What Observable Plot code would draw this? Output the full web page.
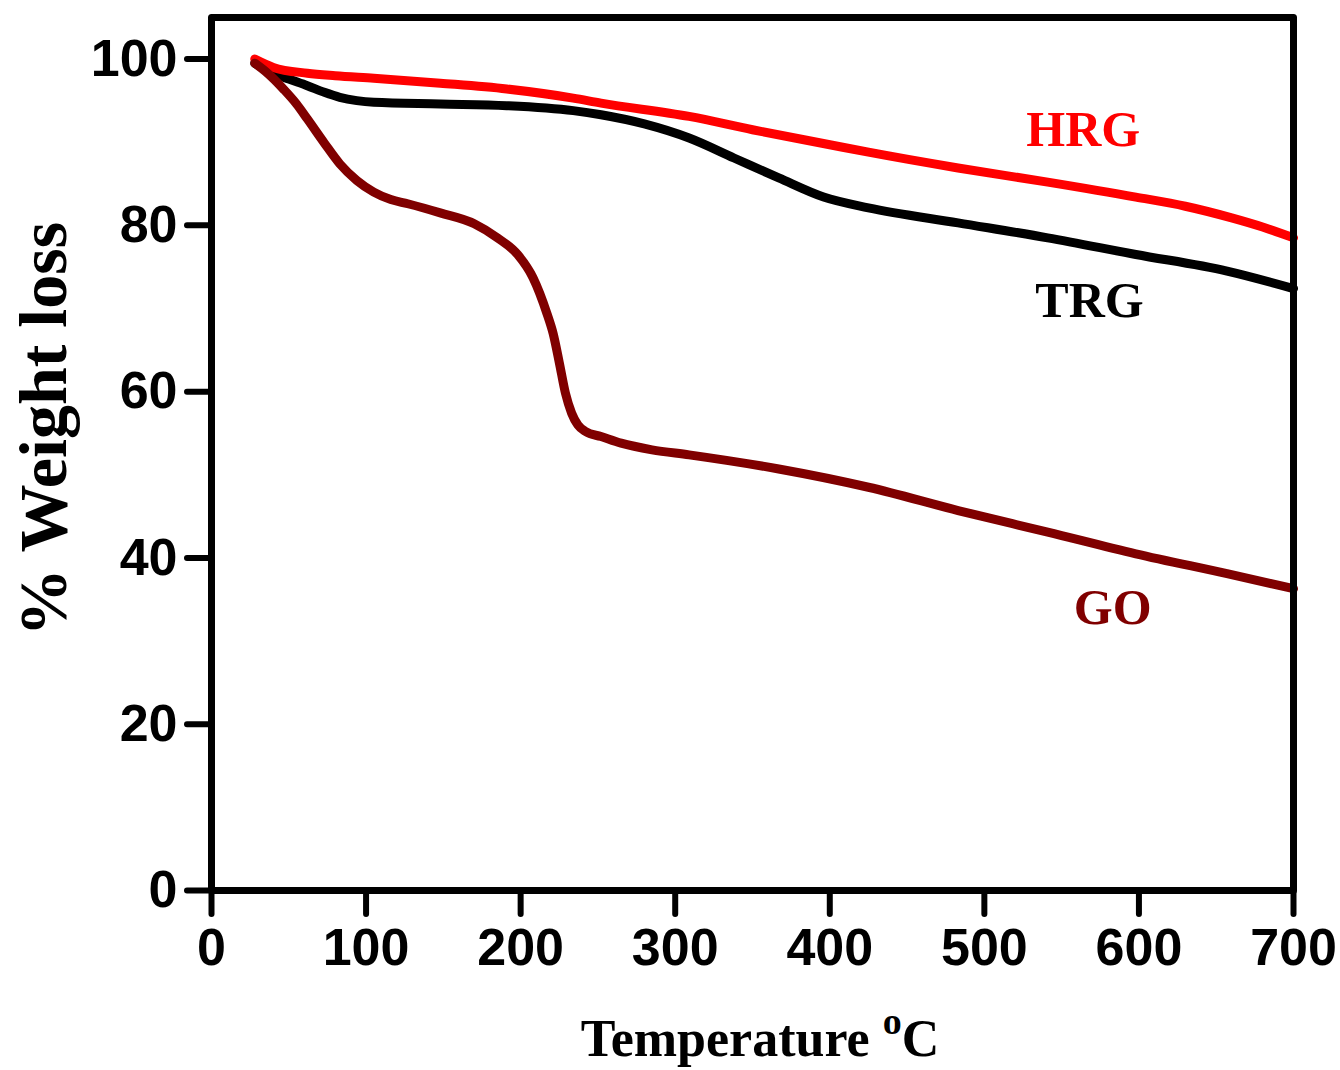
<!DOCTYPE html>
<html>
<head>
<meta charset="utf-8">
<script src="https://cdn.jsdelivr.net/npm/d3@7"></script>
<script src="https://cdn.jsdelivr.net/npm/@observablehq/plot@0.6"></script>
<style>
  html, body { margin: 0; padding: 0; background: #ffffff; }
  #chart svg { display: block; }
</style>
</head>
<body>
<div id="chart"></div>
<script>
// ---- Data ----
const xTicks = [0, 100, 200, 300, 400, 500, 600, 700];
const yTicks = [0, 20, 40, 60, 80, 100];

const seriesNames = ["TRG", "HRG", "GO"];
const seriesColors = ["#000000", "#ff0000", "#800000"];

const trgTemp   = [28, 40, 50, 62, 73, 83, 94, 105, 148, 191, 234, 252, 280, 309, 338, 367, 396, 425, 483, 541, 598, 657, 700];
const trgWeight = [99.5, 98.3, 97.6, 96.8, 96.0, 95.4, 95.0, 94.8, 94.6, 94.4, 93.8, 93.3, 92.2, 90.5, 88.1, 85.7, 83.4, 82.1, 80.3, 78.5, 76.5, 74.5, 72.4];

const hrgTemp   = [28, 40, 62, 80, 105, 148, 191, 234, 252, 309, 350, 400, 425, 483, 541, 598, 630, 660, 680, 700];
const hrgWeight = [100, 99.0, 98.3, 98.0, 97.7, 97.1, 96.4, 95.3, 94.7, 93.1, 91.5, 89.7, 88.8, 86.9, 85.2, 83.4, 82.3, 80.9, 79.8, 78.5];

const goTemp   = [28, 35, 47, 55, 62, 73, 83, 94, 105, 116, 127, 148, 170, 185, 198, 208, 217, 221, 225, 229, 233, 237, 242, 252, 265, 285, 309, 367, 425, 483, 541, 598, 657, 700];
const goWeight = [99.5, 98.5, 96.3, 94.6, 92.8, 89.9, 87.4, 85.4, 84.0, 83.1, 82.6, 81.5, 80.2, 78.5, 76.5, 73.7, 69.4, 67.0, 63.5, 59.8, 57.4, 56.0, 55.2, 54.6, 53.8, 53.0, 52.4, 50.7, 48.5, 45.7, 43.1, 40.5, 38.1, 36.3];

// series label annotations (data units)
const labelTemp   = [568, 564, 583];
const labelWeight = [70.9, 91.5, 34.0];

// ---- Build tables ----
const temps = [trgTemp, hrgTemp, goTemp];
const weights = [trgWeight, hrgWeight, goWeight];
const rows = [];
seriesNames.forEach((name, k) => {
  temps[k].forEach((t, i) => rows.push({series: name, t, w: weights[k][i]}));
});
const labels = seriesNames.map((name, k) => ({series: name, t: labelTemp[k], w: labelWeight[k]}));

const serif = "'Liberation Serif', 'Times New Roman', serif";

const plot = Plot.plot({
  width: 1340,
  height: 1070,
  marginLeft: 211,
  marginRight: 47,
  marginTop: 17,
  marginBottom: 180,
  style: {fontFamily: "'Liberation Sans', Arial, sans-serif", fontWeight: "bold", fontSize: "52px", color: "#000", background: "#fff"},
  x: {domain: [0, 700], axis: null},
  y: {domain: [0, 105], axis: null},
  color: {domain: seriesNames, range: seriesColors},
  marks: [
    Plot.line(rows, {x: "t", y: "w", z: "series", stroke: "series", strokeWidth: 9,
      curve: "monotone-x", strokeLinecap: "round", strokeLinejoin: "round"}),
    Plot.frame({stroke: "#000", strokeWidth: 7, strokeLinejoin: "round"}),
    Plot.axisX(xTicks, {tickSize: 24, tickPadding: 14, strokeWidth: 6, strokeLinecap: "round",
      fontSize: 52, fontWeight: "bold", label: null, stroke: "#000", fill: "#000"}),
    Plot.axisY(yTicks, {tickSize: 24, tickPadding: 10, strokeWidth: 6, strokeLinecap: "round",
      fontSize: 52, fontWeight: "bold", label: null, stroke: "#000", fill: "#000"}),
    Plot.text(labels, {x: "t", y: "w", text: "series", fill: "series", fontSize: 50,
      fontWeight: "bold", fontFamily: serif, lineAnchor: "middle"}),
    Plot.text(["% Weight loss"], {frameAnchor: "left", textAnchor: "middle", rotate: -90, dx: -146, dy: -25,
      lineAnchor: "bottom", fontSize: 68, fontWeight: "bold", fill: "#000", fontFamily: serif})
  ]
});

// X axis label with superscript "o"
const svg = d3.select(plot);
const xl = svg.append("text")
  .attr("x", 760).attr("y", 1056)
  .attr("text-anchor", "middle")
  .attr("fill", "#000")
  .style("font-family", serif)
  .style("font-weight", "bold")
  .style("font-size", "52px");
xl.append("tspan").text("Temperature ");
xl.append("tspan").attr("dy", -22).style("font-size", "38px").text("o");
xl.append("tspan").attr("dy", 22).text("C");

document.getElementById("chart").appendChild(plot);
</script>
</body>
</html>
